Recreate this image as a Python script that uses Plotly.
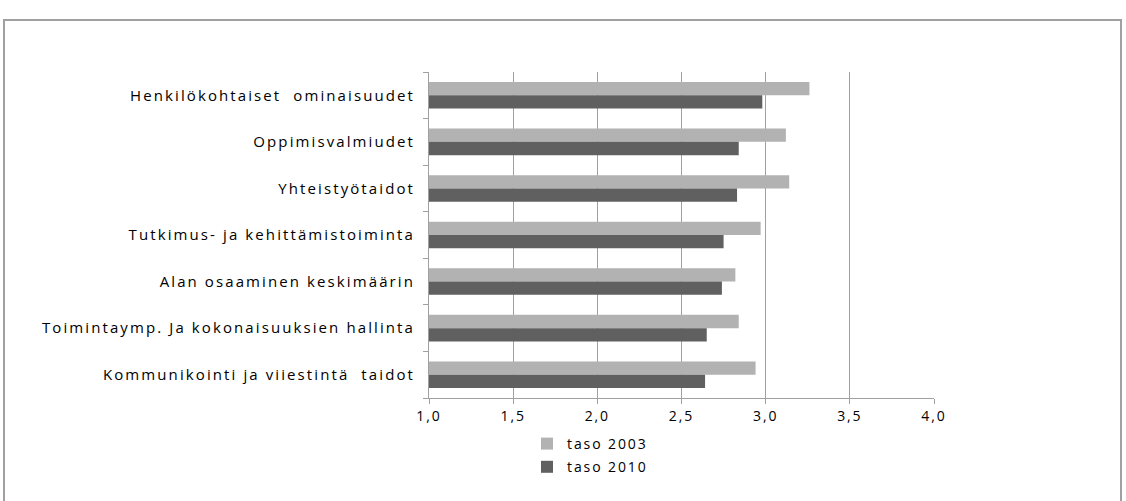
import plotly.graph_objects as go

# Competence areas, listed top to bottom
categories = [
    "Henkilökohtaiset  ominaisuudet",
    "Oppimisvalmiudet",
    "Yhteistyötaidot",
    "Tutkimus- ja kehittämistoiminta",
    "Alan osaaminen keskimäärin",
    "Toimintaymp. Ja kokonaisuuksien hallinta",
    "Kommunikointi ja viiestintä  taidot",
]
taso_2003 = [3.26, 3.12, 3.14, 2.97, 2.82, 2.84, 2.94]
taso_2010 = [2.98, 2.84, 2.83, 2.75, 2.74, 2.65, 2.64]
x_ticks = [1.0, 1.5, 2.0, 2.5, 3.0, 3.5, 4.0]
x_tick_text = ["1,0", "1,5", "2,0", "2,5", "3,0", "3,5", "4,0"]
series_names = ["taso 2003", "taso 2010"]

FONT = "Open Sans"
W, H = 1126, 501
L, R, T, B = 429, 192, 72, 103
pw, ph = W - L - R, H - T - B


def px_x(v):
    return (v - L) / pw


def px_y(v):
    return (H - B - v) / ph


def spaced(s, sp="1.9px"):
    return f'<span style="letter-spacing:{sp}">{s}</span>'


fig = go.Figure()
fig.add_trace(go.Bar(
    y=categories, x=taso_2003, orientation="h", name=spaced(series_names[0]),
    marker=dict(color="#b2b2b2", line=dict(width=0)),
    legendgroup="a", base=0,
))
fig.add_trace(go.Bar(
    y=categories, x=taso_2010, orientation="h", name=spaced(series_names[1]),
    marker=dict(color="#606060", line=dict(width=0)),
    legendgroup="b", base=0,
))

fig.update_layout(
    width=W, height=H,
    margin=dict(l=L, r=R, t=T, b=B, pad=0),
    paper_bgcolor="white", plot_bgcolor="white",
    barmode="group", bargap=0.43, bargroupgap=0,
    font=dict(family=FONT, size=14, color="#000000"),
    legend=dict(
        x=px_x(527), y=px_y(428), xanchor="left", yanchor="top",
        font=dict(family=FONT, size=14, color="#000000"),
        traceorder="grouped", tracegroupgap=2,
        bgcolor="rgba(0,0,0,0)",
    ),
    xaxis=dict(
        range=[1.0, 4.0], tickvals=x_ticks,
        ticktext=[spaced(t) for t in x_tick_text],
        showgrid=True, gridcolor="#a0a0a0", gridwidth=1,
        showline=True, linecolor="#a0a0a0", linewidth=1,
        ticks="outside", ticklen=5, tickcolor="#a0a0a0",
        zeroline=False, fixedrange=True,
        tickfont=dict(family=FONT, size=14, color="#000000"),
    ),
    yaxis=dict(
        autorange="reversed", type="category",
        tickvals=categories, ticktext=[spaced(c, "2.1px") for c in categories],
        showline=True, linecolor="#a0a0a0", linewidth=1,
        ticks="outside", ticklen=5, tickcolor="#a0a0a0",
        tickson="boundaries", showgrid=False,
        ticklabelstandoff=10,
        tickfont=dict(family=FONT, size=15, color="#000000"),
    ),
    shapes=[dict(
        type="rect", xref="paper", yref="paper",
        x0=px_x(4), x1=px_x(1121), y0=px_y(520), y1=px_y(20),
        line=dict(color="#a0a0a0", width=2), fillcolor="rgba(0,0,0,0)",
        layer="below",
    )],
)

fig.write_html("out.html")
